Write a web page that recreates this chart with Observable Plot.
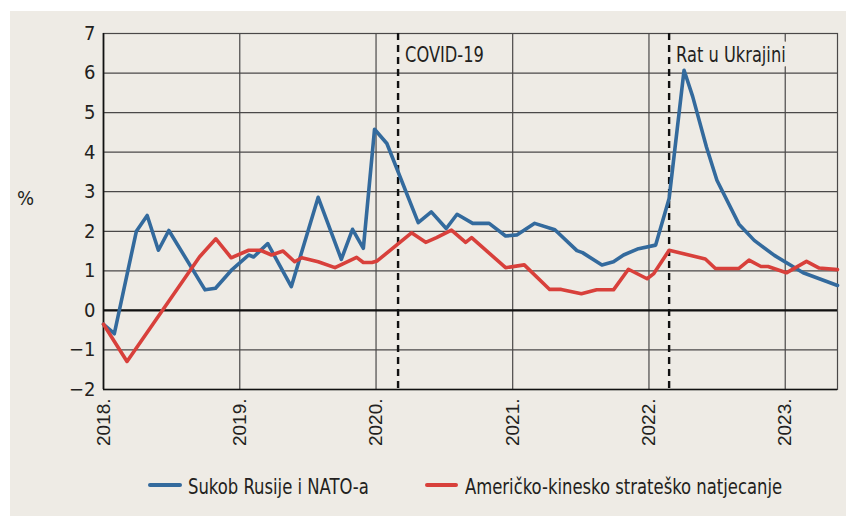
<!DOCTYPE html>
<html>
<head>
<meta charset="utf-8">
<script src="https://cdn.jsdelivr.net/npm/d3@7"></script>
<script src="https://cdn.jsdelivr.net/npm/@observablehq/plot@0.6"></script>
<style>
  html, body { margin: 0; padding: 0; background: #ffffff; }
  #bg { position: absolute; left: 10px; top: 11px; width: 836px; height: 505px; background: #eeebe5; }
  #chart { position: absolute; left: 0; top: 0; }
  .narrow { font-family: "Liberation Sans Narrow", "Arial Narrow", "DejaVu Sans Condensed", sans-serif; color: #231f20; }
  #pct { position: absolute; left: 17px; top: 186px; font-size: 20px; }
  .sw { position: absolute; height: 4px; border-radius: 2px; }
  .lt { position: absolute; font-size: 21px; white-space: nowrap; line-height: 1; transform-origin: 0 0; transform: scaleX(0.87); }
</style>
</head>
<body>
<div id="bg"></div>
<div id="chart"></div>
<div id="pct" class="narrow">%</div>
<div id="legend"></div>
<script>
// ---- data ----
const russiaDates = [
  "2018-01-01","2018-01-30","2018-03-30","2018-04-28","2018-05-28","2018-06-25","2018-09-30","2018-10-28","2018-12-09",
  "2019-01-25","2019-02-07","2019-03-17","2019-05-19","2019-07-30","2019-09-30","2019-10-30","2019-11-28","2019-12-28",
  "2020-01-30","2020-04-23","2020-05-28","2020-07-07","2020-08-05","2020-09-16","2020-10-30","2020-12-13",
  "2021-01-13","2021-03-01","2021-04-24","2021-06-22","2021-07-07","2021-08-28","2021-09-28","2021-10-25","2021-12-01",
  "2022-01-19","2022-02-24","2022-04-05","2022-04-28","2022-06-04","2022-07-02","2022-08-30","2022-10-10","2022-12-03",
  "2023-02-18","2023-05-21"
];
const russiaValues = [
  -0.35,-0.59,2.00,2.40,1.52,2.02,0.52,0.56,1.01,
  1.40,1.35,1.69,0.60,2.86,1.29,2.05,1.57,4.58,
  4.22,2.22,2.49,2.07,2.43,2.20,2.20,1.88,
  1.91,2.20,2.04,1.51,1.46,1.15,1.23,1.40,1.55,
  1.65,2.83,6.07,5.41,4.13,3.29,2.18,1.77,1.39,
  0.95,0.63
];
const chinaDates = [
  "2018-01-01","2018-03-05","2018-09-15","2018-10-29","2018-12-09",
  "2019-01-25","2019-02-25","2019-03-27","2019-04-27","2019-05-28","2019-06-16","2019-07-30","2019-09-13","2019-11-10","2019-11-28","2019-12-21",
  "2020-01-04","2020-04-05","2020-05-13","2020-06-11","2020-07-21","2020-08-28","2020-09-13","2020-12-13",
  "2021-02-01","2021-04-10","2021-05-11","2021-07-04","2021-08-14","2021-09-28","2021-11-07","2021-12-27",
  "2022-01-14","2022-02-24","2022-06-01","2022-06-28","2022-08-30","2022-09-26","2022-10-28","2022-11-16",
  "2023-01-04","2023-02-27","2023-04-02","2023-05-21"
];
const chinaValues = [
  -0.35,-1.29,1.35,1.81,1.33,
  1.52,1.52,1.40,1.50,1.23,1.33,1.23,1.08,1.34,1.21,1.21,
  1.25,1.96,1.72,1.84,2.03,1.72,1.84,1.08,
  1.15,0.53,0.53,0.42,0.52,0.52,1.04,0.80,
  0.93,1.52,1.30,1.06,1.06,1.27,1.11,1.11,
  0.95,1.24,1.07,1.03
];
const seriesNames = ["Sukob Rusije i NATO-a", "Američko-kinesko strateško natjecanje"];
const seriesColors = ["#336a9d", "#d8403b"];
const yTicks = [-2, -1, 0, 1, 2, 3, 4, 5, 6, 7];
const yearTicks = ["2018-01-01","2019-01-01","2020-01-01","2021-01-01","2022-01-01","2023-01-01"];
const xDomain = ["2018-01-01", "2023-05-21"];
const eventDates = ["2020-02-29", "2022-02-24"];
const eventLabels = ["COVID-19", "Rat u Ukrajini"];

// ---- build ----
const toDate = s => new Date(s + "T00:00:00Z");
const russia = russiaDates.map((d, i) => ({date: toDate(d), value: russiaValues[i]}));
const china = chinaDates.map((d, i) => ({date: toDate(d), value: chinaValues[i]}));
const years = yearTicks.map(toDate);
const events = eventDates.map((d, i) => ({date: toDate(d), label: eventLabels[i]}));
const BG = "#eeebe5";
const GRID = "#4a4848";
const NARROW = '"Liberation Sans Narrow", "Arial Narrow", "DejaVu Sans Condensed", sans-serif';
const SQUEEZE = 0.86;

const chart = Plot.plot({
  width: 846,
  height: 460,
  marginLeft: 103,
  marginRight: 9,
  marginTop: 33,
  marginBottom: 71,
  style: {background: "transparent", fontFamily: NARROW, color: "#231f20"},
  x: {type: "utc", domain: xDomain.map(toDate)},
  y: {domain: [-2, 7]},
  marks: [
    Plot.ruleY(yTicks, {stroke: GRID, strokeWidth: 1.2}),
    Plot.ruleX(years, {stroke: GRID, strokeWidth: 1.2}),
    Plot.frame({stroke: GRID, strokeWidth: 1.2}),
    Plot.ruleY([0], {stroke: "#111", strokeWidth: 2.2}),
    Plot.ruleY([-2], {stroke: "#111", strokeWidth: 1.6}),
    Plot.ruleX([toDate(xDomain[0])], {stroke: "#111", strokeWidth: 1.6}),
    Plot.ruleX(events, {x: "date", stroke: "#111", strokeWidth: 2.4, strokeDasharray: "7,5"}),
    Plot.text(events, {x: "date", y: 6.44, text: "label", textAnchor: "start", dx: 7,
      fontSize: 21, fontFamily: NARROW, fill: "#231f20", stroke: BG, strokeWidth: 9}),
    Plot.line(russia, {x: "date", y: "value", stroke: seriesColors[0], strokeWidth: 3.6, strokeLinejoin: "round"}),
    Plot.line(china, {x: "date", y: "value", stroke: seriesColors[1], strokeWidth: 3.6, strokeLinejoin: "round"}),
    Plot.axisY({ticks: yTicks, tickSize: 0, tickPadding: 8, fontSize: 20, fontFamily: NARROW, label: null}),
    Plot.axisX({ticks: years, tickSize: 0, tickPadding: 9, tickRotate: -90, fontSize: 19,
      fontFamily: '"Liberation Sans", Arial, sans-serif', tickFormat: d => d.getUTCFullYear() + ".", label: null})
  ]
});
// condense the annotation text horizontally (no narrow font installed)
chart.querySelectorAll("text").forEach(t => {
  if (!eventLabels.includes(t.textContent)) return;
  const xa = t.getAttribute("x");
  let tr = t.getAttribute("transform") || "";
  if (xa !== null && isFinite(+xa)) {
    const ya = t.getAttribute("y");
    const yNum = ya !== null && isFinite(+ya) ? +ya : 0;
    tr += ` translate(${+xa},${yNum})`;
    t.removeAttribute("x");
    if (ya !== null && isFinite(+ya)) t.removeAttribute("y");
  }
  t.setAttribute("transform", `${tr} scale(${SQUEEZE},1)`);
});
document.getElementById("chart").appendChild(chart);

// ---- legend ----
const legend = document.getElementById("legend");
const legendPos = [{sw: 148, w: 34, tx: 188}, {sw: 425, w: 33, tx: 465}];
seriesNames.forEach((name, i) => {
  const s = document.createElement("div");
  s.className = "sw";
  s.style.left = legendPos[i].sw + "px";
  s.style.width = legendPos[i].w + "px";
  s.style.top = "483px";
  s.style.background = seriesColors[i];
  legend.appendChild(s);
  const t = document.createElement("div");
  t.className = "lt narrow";
  t.style.left = legendPos[i].tx + "px";
  t.style.top = "477px";
  t.textContent = name;
  legend.appendChild(t);
});
</script>
</body>
</html>
